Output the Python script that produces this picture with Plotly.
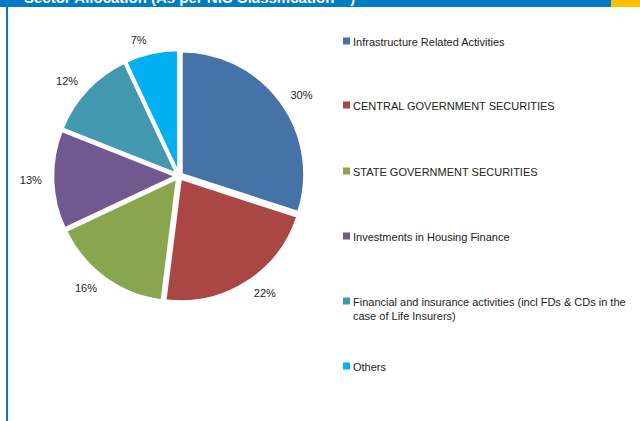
import plotly.graph_objects as go

labels = [
    "Infrastructure Related Activities",
    "CENTRAL GOVERNMENT SECURITIES",
    "STATE GOVERNMENT SECURITIES",
    "Investments in Housing Finance",
    "Financial and insurance activities (incl FDs & CDs in the<br>case of Life Insurers)",
    "Others",
]
values = [30, 22, 16, 13, 12, 7]
colors = ["#4572A7", "#AA4643", "#89A54E", "#71588F", "#4198AF", "#00B0F0"]
title_text = "<b>Sector Allocation (As per NIC Classification **)</b>"

W, H = 640, 421

def py(p):
    return 1 - p / H

def px(p):
    return p / W

fig = go.Figure()
# main pie (slices)
fig.add_trace(go.Pie(
    labels=labels, values=values, sort=False, direction="clockwise", rotation=0,
    marker=dict(colors=colors, line=dict(color="white", width=2.5)),
    pull=0.025, textinfo="none",
    showlegend=False, hoverinfo="label+percent",
    domain=dict(x=[px(53), px(305)], y=[py(302), py(50)]),
))
# transparent companion pie carrying the percentage labels a bit further out
fig.add_trace(go.Pie(
    labels=labels, values=values, sort=False, direction="clockwise", rotation=0,
    marker=dict(colors=["rgba(0,0,0,0)"] * len(values), line=dict(width=0)),
    texttemplate="%{percent:.0%}", textposition="outside",
    textfont=dict(family="Liberation Sans, Arial", size=11, color="#222"),
    showlegend=False, hoverinfo="skip",
    domain=dict(x=[px(45), px(313)], y=[py(310), py(42)]),
))

shapes = [
    dict(type="rect", xref="paper", yref="paper", x0=0, x1=px(611), y0=py(7), y1=1,
         fillcolor="#007CC3", line=dict(width=0), layer="below"),
    dict(type="rect", xref="paper", yref="paper", x0=px(611), x1=1, y0=py(7), y1=1,
         fillcolor="#FFC000", line=dict(width=0), layer="below"),
    dict(type="rect", xref="paper", yref="paper", x0=px(6), x1=px(8), y0=0, y1=py(7),
         fillcolor="#007CC3", line=dict(width=0), layer="below"),
]
annotations = [
    dict(text=title_text, xref="paper", yref="paper", x=px(22), y=py(8.5),
         xanchor="left", yanchor="bottom", showarrow=False,
         font=dict(family="Liberation Sans, Arial", size=15, color="white")),
]
leg_y = [41, 105, 171, 236, 301, 366]
for lab, col, yy in zip(labels, colors, leg_y):
    shapes.append(dict(type="rect", xref="paper", yref="paper",
                       x0=px(343), x1=px(350), y0=py(yy + 3.5), y1=py(yy - 3.5),
                       fillcolor=col, line=dict(width=0)))
    annotations.append(dict(text=lab, xref="paper", yref="paper", x=px(351), y=py(yy - 7),
                            xanchor="left", yanchor="top", align="left", showarrow=False,
                            font=dict(family="Liberation Sans, Arial", size=11, color="#222")))

fig.update_layout(
    width=W, height=H, margin=dict(l=0, r=0, t=0, b=0),
    paper_bgcolor="white", plot_bgcolor="white",
    shapes=shapes, annotations=annotations,
)
fig.write_html("out.html", config={"displayModeBar": False})

with open("out.html", "r", encoding="utf-8") as f:
    html = f.read()
html = html.replace("<head>", "<head><style>html,body{margin:0;padding:0;overflow:hidden;}</style>", 1)
with open("out.html", "w", encoding="utf-8") as f:
    f.write(html)
